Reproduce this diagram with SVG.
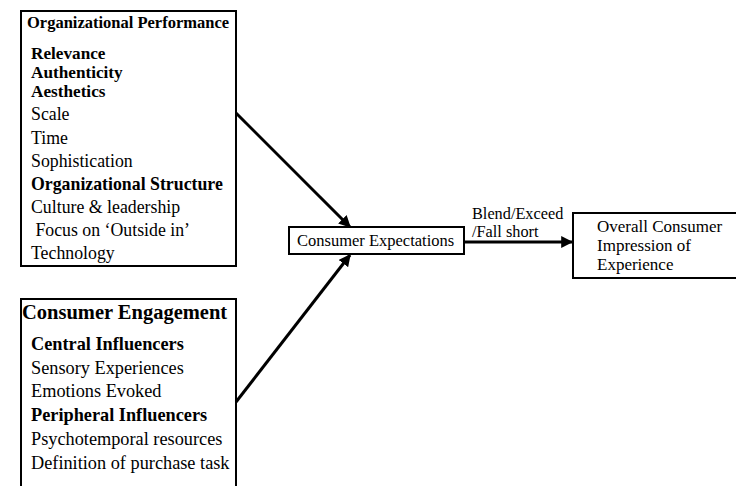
<svg xmlns="http://www.w3.org/2000/svg" width="736" height="486" viewBox="0 0 736 486">
  <style>
    .box { fill: #fff; stroke: #000; stroke-width: 2; }
    text { font-family: "Liberation Serif", "Times New Roman", serif; fill: #000; font-size: 17.8px; }
    .b { font-weight: bold; }
    .ce text { font-size: 18.3px; }
    .edge { stroke: #000; stroke-width: 3; fill: none; }
  </style>
  <defs>
    <marker id="arrow" viewBox="0 0 10 10" refX="9" refY="5" markerWidth="4" markerHeight="4" orient="auto" markerUnits="strokeWidth">
      <path d="M0,0 L10,5 L0,10 z" fill="#000"/>
    </marker>
  </defs>
  <rect width="736" height="486" fill="#fff"/>

  <g id="org-performance">
    <rect class="box" x="21" y="11" width="215" height="255"/>
    <text class="b" x="27" y="28" style="font-size:16.5px">Organizational Performance</text>
    <text class="b" x="31" y="59" style="font-size:17.2px">Relevance</text>
    <text class="b" x="31" y="78" style="font-size:17.2px">Authenticity</text>
    <text class="b" x="31" y="97" style="font-size:17.2px">Aesthetics</text>
    <text x="31" y="120">Scale</text>
    <text x="31" y="144">Time</text>
    <text x="31" y="167">Sophistication</text>
    <text class="b" x="31" y="190">Organizational Structure</text>
    <text x="31" y="213">Culture &amp; leadership</text>
    <text x="31" y="236" xml:space="preserve"> Focus on ‘Outside in’</text>
    <text x="31" y="259">Technology</text>
  </g>

  <g id="consumer-engagement" class="ce">
    <rect class="box" x="21" y="299" width="215" height="200"/>
    <text class="b" x="22" y="319" style="font-size:20.5px">Consumer Engagement</text>
    <text class="b" x="31" y="350">Central Influencers</text>
    <text x="31" y="374">Sensory Experiences</text>
    <text x="31" y="397">Emotions Evoked</text>
    <text class="b" x="31" y="421">Peripheral Influencers</text>
    <text x="31" y="445">Psychotemporal resources</text>
    <text x="31" y="469">Definition of purchase task</text>
  </g>

  <g id="consumer-expectations">
    <rect class="box" x="289" y="227" width="175" height="27"/>
    <text x="297" y="246" style="font-size:16.5px">Consumer Expectations</text>
  </g>

  <g id="overall-impression">
    <rect class="box" x="573" y="213" width="170" height="65"/>
    <text x="597" y="232" style="font-size:17px">Overall Consumer</text>
    <text x="597" y="251" style="font-size:17px">Impression of</text>
    <text x="597" y="270" style="font-size:17px">Experience</text>
  </g>

  <g id="connectors">
    <line class="edge" x1="236" y1="113" x2="350" y2="227" marker-end="url(#arrow)"/>
    <line class="edge" x1="236" y1="402" x2="350" y2="255" marker-end="url(#arrow)"/>
    <line class="edge" x1="464" y1="242" x2="572" y2="242" marker-end="url(#arrow)"/>
    <text x="472" y="219" style="font-size:16.3px">Blend/Exceed</text>
    <text x="472" y="237" style="font-size:16.3px">/Fall short</text>
  </g>
</svg>
